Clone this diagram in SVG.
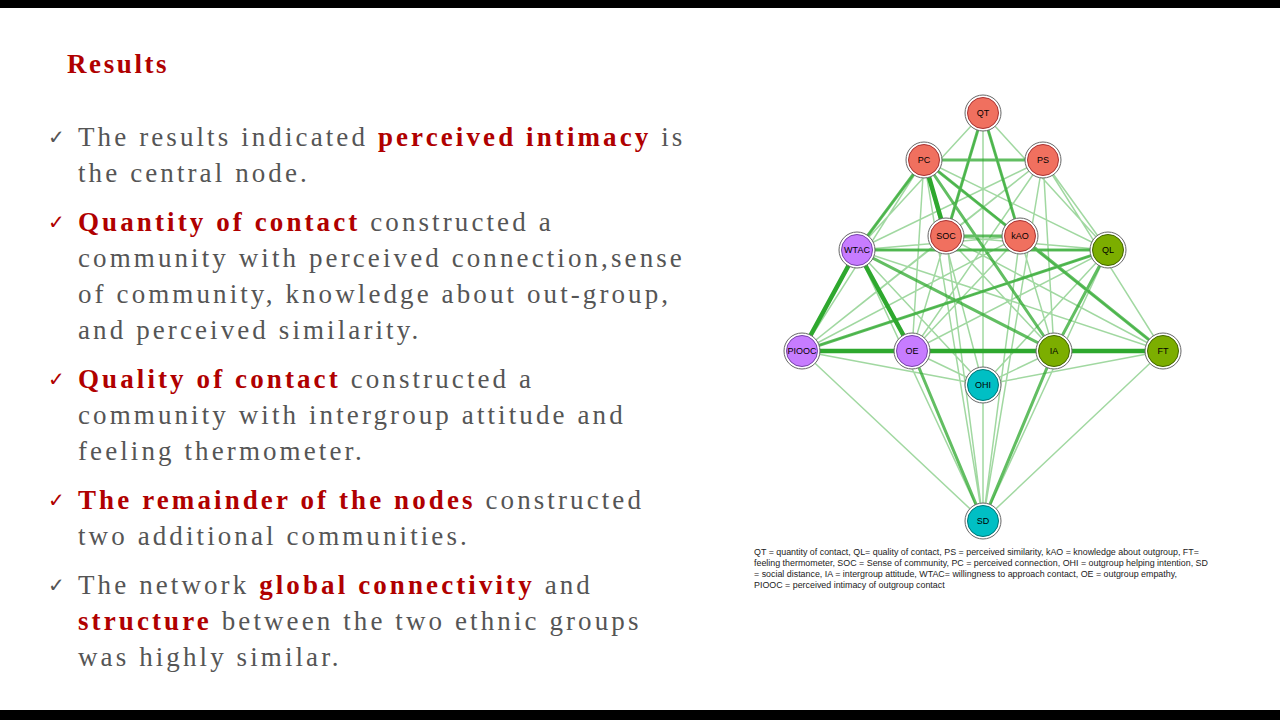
<svg xmlns="http://www.w3.org/2000/svg" width="1280" height="720" viewBox="0 0 1280 720">
<style>
.t{font-family:"Liberation Serif",serif;font-size:27px;fill:#555;letter-spacing:3.1px}
.h{fill:#b00000;font-weight:bold}
.c{font-family:"DejaVu Sans",sans-serif;font-size:20px;fill:#555}
.c2{font-family:"DejaVu Sans",sans-serif;font-size:20px;fill:#b00000}
.n{font-family:"Liberation Sans",Arial,sans-serif;font-size:9px;text-anchor:middle;dominant-baseline:central}
.e{stroke:#2ea82e;fill:none}
.l{font-family:"Liberation Sans",Arial,sans-serif;font-size:8.9px;fill:#222}
</style>
<rect width="1280" height="720" fill="#fff"/>
<rect width="1280" height="8" fill="#000"/>
<rect y="710" width="1280" height="10" fill="#000"/>
<text x="67" y="73" font-family="Liberation Serif,serif" font-size="27" font-weight="bold" fill="#b00000" letter-spacing="2.6">Results</text>
<text class="c" x="48" y="144">✓</text>
<text class="c2" x="48" y="229">✓</text>
<text class="c2" x="48" y="386">✓</text>
<text class="c2" x="48" y="507">✓</text>
<text class="c" x="48" y="592">✓</text>
<g class="t">
<text x="78" y="146">The results indicated <tspan class="h">perceived intimacy</tspan> is</text>
<text x="78" y="182">the central node.</text>
<text x="78" y="231"><tspan class="h">Quantity of contact</tspan> constructed a</text>
<text x="78" y="267">community with perceived connection,sense</text>
<text x="78" y="303">of community, knowledge about out-group,</text>
<text x="78" y="339">and perceived similarity.</text>
<text x="78" y="388"><tspan class="h">Quality of contact</tspan> constructed a</text>
<text x="78" y="424">community with intergroup attitude and</text>
<text x="78" y="460">feeling thermometer.</text>
<text x="78" y="509"><tspan class="h">The remainder of the nodes</tspan> constructed</text>
<text x="78" y="545">two additional communities.</text>
<text x="78" y="594">The network <tspan class="h">global connectivity</tspan> and</text>
<text x="78" y="630"><tspan class="h">structure</tspan> between the two ethnic groups</text>
<text x="78" y="666">was highly similar.</text>
</g>
<g id="connectors">
<g class="e" stroke-width="1.5" stroke-opacity="0.45">
<path d="M983 113L946 236M983 113L857 250M983 113L1108 250M983 113L912 351M983 113L1054 351M983 113L983 385M983 113L1020 236M924 160L1020 236M924 160L1108 250M924 160L857 250M924 160L802 351M924 160L912 351M924 160L1163 351M924 160L983 385M1043 160L946 236M1043 160L857 250M1043 160L1108 250M1043 160L912 351M1043 160L1054 351M1043 160L1163 351M1043 160L802 351M946 236L1108 250M946 236L802 351M946 236L1054 351M946 236L1163 351M946 236L983 521M1020 236L857 250M1020 236L802 351M1020 236L912 351M1020 236L983 521M857 250L1108 250M857 250L1163 351M857 250L983 385M1108 250L802 351M1108 250L912 351M1108 250L983 385M1108 250L857 250M802 351L983 385M912 351L1163 351M912 351L983 385M1054 351L983 385M1163 351L983 385M983 385L983 521M802 351L983 521M1163 351L983 521M857 250L983 521M1108 250L983 521M924 160L983 521M1043 160L983 521"/>
</g>
<g class="e" stroke-width="3" stroke-opacity="0.75">
<path d="M924 160L1043 160M983 113L1020 236M983 113L946 236M924 160L946 236M924 160L1054 351M924 160L1163 351M946 236L1020 236M857 250L1054 351M1108 250L1054 351M1108 250L802 351M1020 236L1163 351M912 351L983 521M1054 351L983 521M802 351L1108 250M857 250L1108 250M924 160L857 250"/>
</g>
<g class="e" stroke-width="4.5" stroke="#1f9a1f">
<path d="M802 351L912 351M802 351L857 250M857 250L912 351M912 351L1054 351M1054 351L1163 351M924 160L946 236"/>
</g>
</g>
<g id="QT"><circle cx="983" cy="113" r="18" fill="#fff" stroke="#666"/><circle cx="983" cy="113" r="15.5" fill="#f0705f" stroke="#a33"/><text class="n" x="983" y="113">QT</text></g>
<g id="PC"><circle cx="924" cy="160" r="18" fill="#fff" stroke="#666"/><circle cx="924" cy="160" r="15.5" fill="#f0705f" stroke="#a33"/><text class="n" x="924" y="160">PC</text></g>
<g id="PS"><circle cx="1043" cy="160" r="18" fill="#fff" stroke="#666"/><circle cx="1043" cy="160" r="15.5" fill="#f0705f" stroke="#a33"/><text class="n" x="1043" y="160">PS</text></g>
<g id="SOC"><circle cx="946" cy="236" r="18" fill="#fff" stroke="#666"/><circle cx="946" cy="236" r="15.5" fill="#f0705f" stroke="#a33"/><text class="n" x="946" y="236">SOC</text></g>
<g id="kAO"><circle cx="1020" cy="236" r="18" fill="#fff" stroke="#666"/><circle cx="1020" cy="236" r="15.5" fill="#f0705f" stroke="#a33"/><text class="n" x="1020" y="236">kAO</text></g>
<g id="WTAC"><circle cx="857" cy="250" r="18" fill="#fff" stroke="#666"/><circle cx="857" cy="250" r="15.5" fill="#c77cff" stroke="#74a"/><text class="n" x="857" y="250">WTAC</text></g>
<g id="QL"><circle cx="1108" cy="250" r="18" fill="#fff" stroke="#666"/><circle cx="1108" cy="250" r="15.5" fill="#7cae00" stroke="#460"/><text class="n" x="1108" y="250">QL</text></g>
<g id="PIOOC"><circle cx="802" cy="351" r="18" fill="#fff" stroke="#666"/><circle cx="802" cy="351" r="15.5" fill="#c77cff" stroke="#74a"/><text class="n" x="802" y="351">PIOOC</text></g>
<g id="OE"><circle cx="912" cy="351" r="18" fill="#fff" stroke="#666"/><circle cx="912" cy="351" r="15.5" fill="#c77cff" stroke="#74a"/><text class="n" x="912" y="351">OE</text></g>
<g id="IA"><circle cx="1054" cy="351" r="18" fill="#fff" stroke="#666"/><circle cx="1054" cy="351" r="15.5" fill="#7cae00" stroke="#460"/><text class="n" x="1054" y="351">IA</text></g>
<g id="FT"><circle cx="1163" cy="351" r="18" fill="#fff" stroke="#666"/><circle cx="1163" cy="351" r="15.5" fill="#7cae00" stroke="#460"/><text class="n" x="1163" y="351">FT</text></g>
<g id="OHI"><circle cx="983" cy="385" r="18" fill="#fff" stroke="#666"/><circle cx="983" cy="385" r="15.5" fill="#00bfc4" stroke="#077"/><text class="n" x="983" y="385">OHI</text></g>
<g id="SD"><circle cx="983" cy="521" r="18" fill="#fff" stroke="#666"/><circle cx="983" cy="521" r="15.5" fill="#00bfc4" stroke="#077"/><text class="n" x="983" y="521">SD</text></g>
<g class="l">
<text x="754" y="555">QT = quantity of contact, QL= quality of contact, PS = perceived similarity, kAO = knowledge about outgroup, FT=</text>
<text x="754" y="566">feeling thermometer, SOC = Sense of community, PC = perceived connection, OHI = outgroup helping intention, SD</text>
<text x="754" y="577">= social distance,  IA = intergroup attitude, WTAC= willingness to approach contact, OE = outgroup empathy,</text>
<text x="754" y="588">PIOOC = perceived intimacy of outgroup contact</text>
</g>
</svg>
